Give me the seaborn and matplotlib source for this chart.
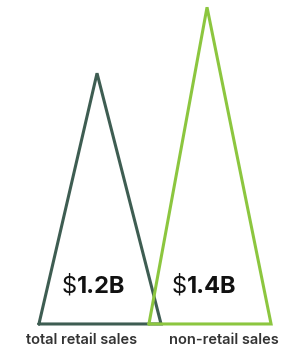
import matplotlib
matplotlib.use("Agg")
import matplotlib.pyplot as plt
import seaborn as sns
import pandas as pd

categories = ["total retail sales", "non-retail sales"]
values = [1.2, 1.4]            # billions of dollars
value_labels = ["1.2B", "1.4B"]
colors = ["#3e5d52", "#8cc63f"]

base = 0.44        # value at the triangle bases
half_width = 0.555
apex_shift = -0.027

# build triangle outlines from the values
rows = []
for i, (cat, v) in enumerate(zip(categories, values)):
    xs = [i - half_width, i + apex_shift, i + half_width, i - half_width]
    ys = [base, v, base, base]
    for k, (x, y) in enumerate(zip(xs, ys)):
        rows.append({"category": cat, "order": k, "x": x, "y": y})
df = pd.DataFrame(rows)

sns.set_style("white")
plt.rcParams["font.family"] = ["Inter", "DejaVu Sans"]

fig = plt.figure(figsize=(2.99, 3.54), dpi=100)
ax = fig.add_axes([0, 0, 1, 1])

sns.lineplot(data=df, x="x", y="y", hue="category", palette=colors,
             sort=False, estimator=None, linewidth=2.2, legend=False, ax=ax)
for line in ax.lines:
    line.set_solid_joinstyle("miter")

for i, (cat, lab) in enumerate(zip(categories, value_labels)):
    ax.text(i - 0.21, base + 0.113, "$", ha="right", va="center",
            fontsize=17, color="#111111")
    ax.text(i - 0.21, base + 0.113, lab, ha="left", va="center",
            fontsize=17, fontweight="bold", color="#111111")
    ax.text(i - 0.165 + 0.29 * i, base - 0.05, cat, ha="center", va="center",
            fontsize=10.5, fontweight="semibold", color="#333333")

ax.set_xlim(-0.909, 1.809)
ax.set_ylim(0.349, 1.422)
ax.axis("off")

fig.savefig("out.png", dpi=100)
